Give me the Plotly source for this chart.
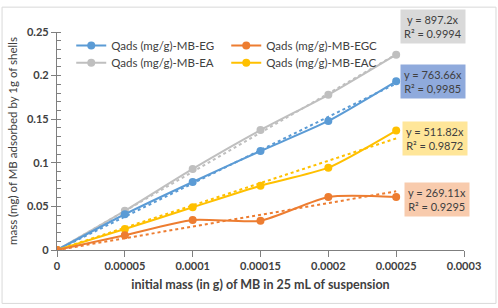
import plotly.graph_objects as go

x_vals = [0, 0.00005, 0.0001, 0.00015, 0.0002, 0.00025]
eg = [0, 0.041, 0.078, 0.1135, 0.148, 0.1935]
egc = [0, 0.017, 0.0345, 0.0336, 0.0608, 0.0608]
ea = [0, 0.045, 0.093, 0.1375, 0.178, 0.224]
eac = [0, 0.024, 0.049, 0.0737, 0.0944, 0.137]

names = ["Qads (mg/g)-MB-EG", "Qads (mg/g)-MB-EGC", "Qads (mg/g)-MB-EA", "Qads (mg/g)-MB-EAC"]
colors = ["#5B9BD5", "#ED7D31", "#BFBFBF", "#FFC000"]
slopes = [763.66, 269.11, 897.2, 511.82]
r2 = ["0,9985", "0.9295", "0.9994", "0.9872"]
box_colors = ["#8FAADC", "#F8CBAD", "#D9D9D9", "#FFE699"]
series = [eg, egc, ea, eac]

x_ticks = [0, 0.00005, 0.0001, 0.00015, 0.0002, 0.00025, 0.0003]
x_ticktext = ["0", "0.00005", "0.0001", "0.00015", "0.0002", "0.00025", "0.0003"]
y_ticks = [0, 0.05, 0.1, 0.15, 0.2, 0.25]
y_ticktext = ["0", "0.05", "0.1", "0.15", "0.2", "0.25"]

FONT = "Lato, Open Sans, sans-serif"

fig = go.Figure()
# trendlines
for ys, c, s in zip(series, colors, slopes):
    fig.add_trace(go.Scatter(x=[x_vals[0], x_vals[-1]], y=[s * x_vals[0], s * x_vals[-1]],
                             mode="lines", line=dict(color=c, width=2, dash="dot"),
                             showlegend=False, hoverinfo="skip"))
# series (legend1: EG, EGC ; legend2: EA, EAC)
legend_of = ["legend", "legend", "legend2", "legend2"]
for i in [2, 0, 3, 1]:
    fig.add_trace(go.Scatter(x=x_vals, y=series[i], name=names[i], mode="lines+markers",
                             line=dict(color=colors[i], width=2, shape="spline", smoothing=0.6),
                             marker=dict(color=colors[i], size=8),
                             legend=legend_of[i], legendrank=i))

leg_common = dict(orientation="h", xanchor="left", yanchor="top",
                  bgcolor="rgba(0,0,0,0)", font=dict(size=11.5, color="#404040", family=FONT),
                  entrywidth=110, itemwidth=30, traceorder="normal")

fig.update_layout(
    width=498, height=308,
    margin=dict(l=57, r=34, t=32, b=58),
    paper_bgcolor="white", plot_bgcolor="white",
    font=dict(family=FONT, size=11, color="#404040"),
    showlegend=True,
    legend=dict(x=0.035, y=1.005, **leg_common),
    legend2=dict(x=0.035, y=0.925, **leg_common),
    xaxis=dict(range=[0, 0.0003], tickvals=x_ticks, ticktext=x_ticktext,
               showline=True, linecolor="#7F7F7F", linewidth=1.2,
               ticks="outside", ticklen=6, tickcolor="#7F7F7F",
               showgrid=False, zeroline=False,
               tickfont=dict(size=11, color="#404040", weight="bold"),
               title=dict(text="<b>initial mass (in g) of MB in 25 mL of suspension</b>",
                          font=dict(size=12.5, color="#404040"), standoff=8)),
    yaxis=dict(range=[0, 0.25], tickvals=y_ticks, ticktext=y_ticktext,
               showline=True, linecolor="#7F7F7F", linewidth=1.2,
               ticks="outside", ticklen=5, tickcolor="#7F7F7F",
               minor=dict(dtick=0.01, ticks="inside", ticklen=4, tickcolor="#7F7F7F"),
               showgrid=False, zeroline=False,
               tickfont=dict(size=11, color="#404040", weight="bold"),
               title=dict(text="mass (mg) of MB adsorbed by 1g of shells",
                          font=dict(size=11.5, color="#404040"), standoff=6)),
)

# equation boxes
box_y = [0.775, 0.232, 1.026, 0.513]
box_x = [0.843, 0.853, 0.843, 0.848]
for s, r, bc, bx, by in zip(slopes, r2, box_colors, box_x, box_y):
    fig.add_annotation(xref="paper", yref="paper", x=bx, y=by, showarrow=False,
                       xanchor="left", yanchor="middle",
                       text=f"y = {s}x<br>R² = {r}", align="center",
                       bgcolor=bc, borderpad=3, font=dict(size=11, color="#404040"))

# chart border
fig.add_shape(type="rect", xref="paper", yref="paper",
              x0=-0.135, x1=1.0786, y0=-0.245, y1=1.114,
              line=dict(color="#D9D9D9", width=1), layer="below")

fig.write_html("out.html")
